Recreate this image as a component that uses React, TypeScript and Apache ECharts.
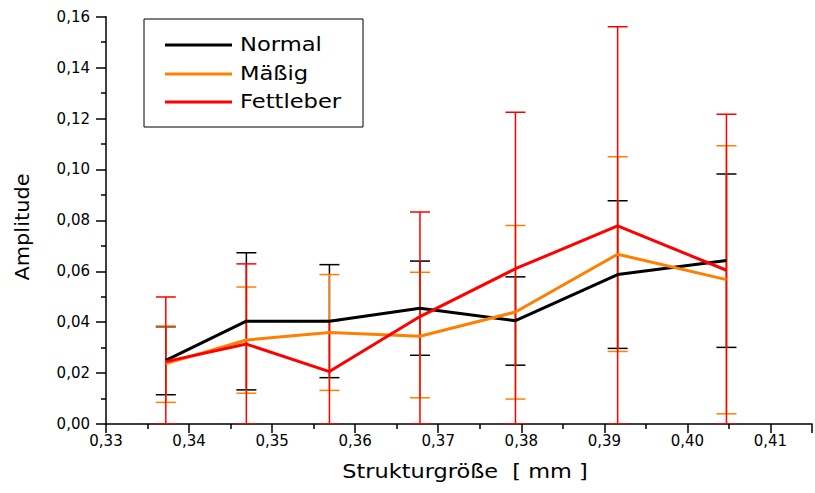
import React, { useEffect, useRef } from "react";
import * as echarts from "echarts";

const xValues = [0.3372, 0.3469, 0.3569, 0.3678, 0.3793, 0.3916, 0.4047];

const normal = [0.025, 0.0404, 0.0404, 0.0455, 0.0406, 0.0587, 0.0642];
const normalLow = [0.0115, 0.0134, 0.0182, 0.027, 0.0231, 0.0297, 0.0301];
const normalHigh = [0.0382, 0.0673, 0.0626, 0.064, 0.0578, 0.0877, 0.0982];

const maessig = [0.0237, 0.033, 0.0359, 0.0345, 0.044, 0.0667, 0.0567];
const maessigLow = [0.0085, 0.0121, 0.0132, 0.0103, 0.0098, 0.0285, 0.004];
const maessigHigh = [0.0385, 0.0538, 0.0587, 0.0596, 0.078, 0.105, 0.1093];

const fett = [0.0245, 0.0314, 0.0206, 0.0422, 0.061, 0.0778, 0.0604];
const fettLow = [0, 0, 0, 0, 0, 0, 0];
const fettHigh = [0.0499, 0.0629, 0.0406, 0.0833, 0.1225, 0.1561, 0.1217];

const seriesNames = ["Normal", "Mäßig", "Fettleber"];
const colors = ["#000000", "#FF8000", "#FF0000"];

const xTitle = "Strukturgröße  [ mm ]";
const yTitle = "Amplitude";

const FONT = "DejaVu Sans";

function errorSeries(name: string, color: string, low: number[], high: number[], z: number) {
  return {
    type: "custom",
    name: name + " err",
    z,
    silent: true,
    clip: true,
    data: xValues.map((xv, i) => [xv, low[i], high[i]]),
    encode: { x: 0, y: [1, 2] },
    renderItem: (params: any, api: any) => {
      const xv = api.value(0);
      const lo = api.coord([xv, api.value(1)]);
      const hi = api.coord([xv, api.value(2)]);
      const hw = 10;
      const style = { stroke: color, lineWidth: 1.5, fill: "none" };
      return {
        type: "group",
        children: [
          { type: "line", shape: { x1: lo[0], y1: lo[1], x2: hi[0], y2: hi[1] }, style },
          { type: "line", shape: { x1: lo[0] - hw, y1: lo[1], x2: lo[0] + hw, y2: lo[1] }, style },
          { type: "line", shape: { x1: hi[0] - hw, y1: hi[1], x2: hi[0] + hw, y2: hi[1] }, style },
        ],
      };
    },
  };
}

function lineSeries(name: string, color: string, vals: number[], z: number) {
  return {
    type: "line",
    name,
    z,
    symbol: "none",
    silent: true,
    data: xValues.map((xv, i) => [xv, vals[i]]),
    lineStyle: { color, width: 3 },
    itemStyle: { color },
  };
}

const fmt = (v: number) => v.toFixed(2).replace(".", ",");

export default function App() {
  const ref = useRef<HTMLDivElement>(null);
  useEffect(() => {
    if (!ref.current) return;
    const chart = echarts.init(ref.current, null, { renderer: "svg" });
    const legendY = [45, 74, 102];
    const legendVals = [normal, maessig, fett];
    chart.setOption({
      animation: false,
      backgroundColor: "#ffffff",
      grid: { left: 106, top: 16.7, width: 720.4, height: 407.3 },
      xAxis: {
        type: "value",
        min: 0.33,
        max: 0.415,
        interval: 0.01,
        splitLine: { show: false },
        axisLine: { show: true, onZero: false, lineStyle: { color: "#000", width: 1.5 } },
        axisTick: { show: true, inside: false, length: 9, lineStyle: { color: "#000", width: 1.5 } },
        minorTick: { show: true, splitNumber: 2, length: 5, lineStyle: { color: "#000", width: 1.5 } },
        axisLabel: {
          color: "#000",
          fontFamily: FONT,
          fontSize: 15,
          margin: 9,
          formatter: (v: number) => (Math.abs(v * 100 - Math.round(v * 100)) < 1e-6 ? fmt(v) : ""),
        },
      },
      yAxis: {
        type: "value",
        min: 0,
        max: 0.16,
        interval: 0.02,
        splitLine: { show: false },
        axisLine: { show: true, lineStyle: { color: "#000", width: 1.5 } },
        axisTick: { show: true, inside: false, length: 10, lineStyle: { color: "#000", width: 1.5 } },
        minorTick: { show: true, splitNumber: 2, length: 5, lineStyle: { color: "#000", width: 1.5 } },
        axisLabel: { color: "#000", fontFamily: FONT, fontSize: 15, margin: 16, formatter: fmt },
      },
      series: [
        errorSeries(seriesNames[0], colors[0], normalLow, normalHigh, 1),
        errorSeries(seriesNames[1], colors[1], maessigLow, maessigHigh, 2),
        errorSeries(seriesNames[2], colors[2], fettLow, fettHigh, 3),
        lineSeries(seriesNames[0], colors[0], normal, 4),
        lineSeries(seriesNames[1], colors[1], maessig, 5),
        lineSeries(seriesNames[2], colors[2], fett, 6),
      ],
      graphic: [
        {
          type: "rect",
          shape: { x: 144, y: 19, width: 219, height: 108 },
          style: { fill: "#fff", stroke: "#000", lineWidth: 1 },
          z: 10,
        },
        ...seriesNames.map((n, i) => ({
          type: "line",
          shape: { x1: 165, y1: legendY[i], x2: 232, y2: legendY[i] },
          style: { stroke: colors[i], lineWidth: 3 },
          z: 11,
        })),
        ...seriesNames.map((n, i) => ({
          type: "text",
          x: 240,
          y: legendY[i],
          scaleX: 1.19,
          style: {
            text: n,
            fill: "#000",
            font: `19px "${FONT}"`,
            textAlign: "left",
            textVerticalAlign: "middle",
            verticalAlign: "middle",
          },
          z: 11,
        })),
        {
          type: "text",
          x: 465,
          y: 472,
          scaleX: 1.18,
          style: {
            text: xTitle,
            fill: "#000",
            font: `19px "${FONT}"`,
            textAlign: "center",
            align: "center",
            verticalAlign: "middle",
            textVerticalAlign: "middle",
          },
        },
        {
          type: "text",
          x: 22,
          y: 227,
          rotation: Math.PI / 2,
          scaleX: 1.1,
          style: {
            text: yTitle,
            fill: "#000",
            font: `19px "${FONT}"`,
            textAlign: "center",
            align: "center",
            verticalAlign: "middle",
            textVerticalAlign: "middle",
          },
        },
      ],
    });
    return () => chart.dispose();
  }, []);
  return (
    <div
      ref={ref}
      style={{ position: "fixed", left: 0, top: 0, width: 815, height: 493, background: "#fff" }}
    />
  );
}
